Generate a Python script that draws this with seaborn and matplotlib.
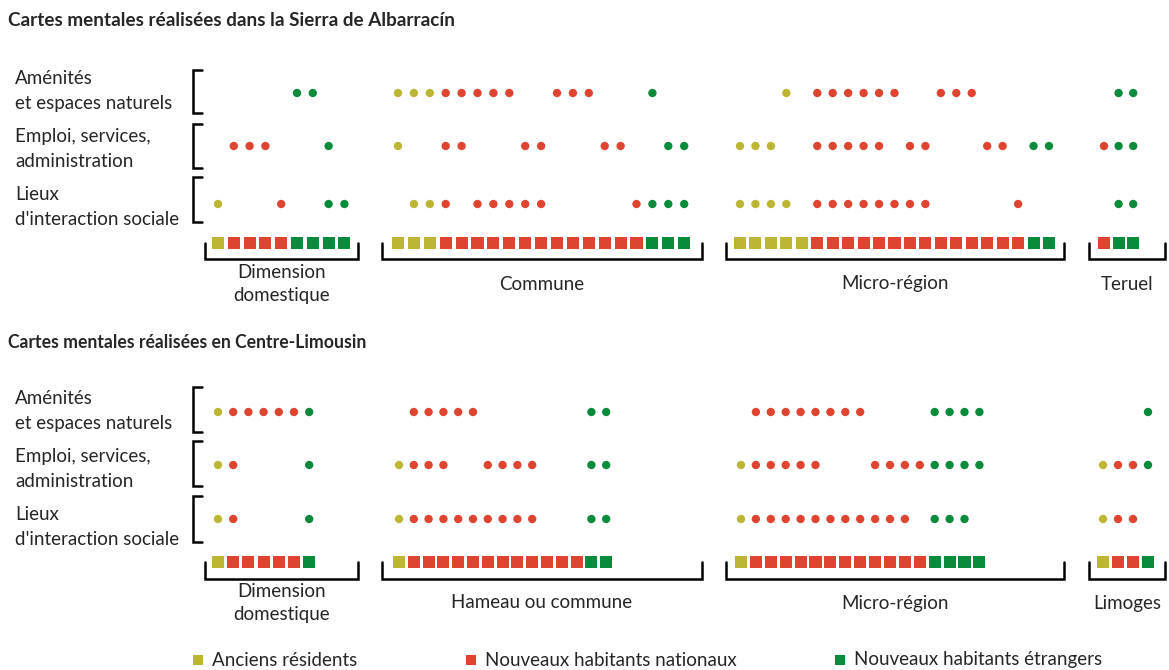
import pandas as pd
import matplotlib.pyplot as plt
import seaborn as sns

# -----------------------------
# Data
# -----------------------------
types = ["Anciens résidents", "Nouveaux habitants nationaux", "Nouveaux habitants étrangers"]
row_labels = ["Aménités\net espaces naturels", "Emploi, services,\nadministration", "Lieux\nd'interaction sociale"]

# Sierra de Albarracín: squares per type (anciens, nationaux, étrangers) and dot columns per row
sierra_title = "Cartes mentales réalisées dans la Sierra de Albarracín"
sierra_groups = ["Dimension\ndomestique", "Commune", "Micro-région", "Teruel"]
sierra_counts = [[1, 4, 4], [3, 13, 3], [5, 14, 2], [0, 1, 2]]
sierra_amenites = [[5, 6], [0, 1, 2, 3, 4, 5, 6, 7, 10, 11, 12, 16],
                   [3, 5, 6, 7, 8, 9, 10, 13, 14, 15], [1, 2]]
sierra_emploi = [[1, 2, 3, 7], [0, 3, 4, 8, 9, 13, 14, 17, 18],
                 [0, 1, 2, 5, 6, 7, 8, 9, 11, 12, 16, 17, 19, 20], [0, 1, 2]]
sierra_lieux = [[0, 4, 7, 8], [1, 2, 3, 5, 6, 7, 8, 9, 15, 16, 17, 18],
                [0, 1, 2, 3, 5, 6, 7, 8, 9, 10, 11, 12, 18], [1, 2]]

# Centre-Limousin
limousin_title = "Cartes mentales réalisées en Centre-Limousin"
limousin_groups = ["Dimension\ndomestique", "Hameau ou commune", "Micro-région", "Limoges"]
limousin_counts = [[1, 5, 1], [1, 12, 2], [1, 12, 4], [1, 2, 1]]
limousin_amenites = [[0, 1, 2, 3, 4, 5, 6], [1, 2, 3, 4, 5, 13, 14],
                     [1, 2, 3, 4, 5, 6, 7, 8, 13, 14, 15, 16], [3]]
limousin_emploi = [[0, 1, 6], [0, 1, 2, 3, 6, 7, 8, 9, 13, 14],
                   [0, 1, 2, 3, 4, 5, 9, 10, 11, 12, 13, 14, 15, 16], [0, 1, 2, 3]]
limousin_lieux = [[0, 1, 6], [0, 1, 2, 3, 4, 5, 6, 7, 8, 9, 13, 14],
                  [0, 1, 2, 3, 4, 5, 6, 7, 8, 9, 10, 11, 13, 14, 15], [0, 1, 2]]

# -----------------------------
# Layout (pixel space, y downwards)
# -----------------------------
W, H = 1169, 670
colors = ["#BDB634", "#DF4431", "#0A8A3B"]
bracket_left = [205, 382, 726, 1089]
bracket_right = [358, 702, 1064, 1165]

panels = [
    dict(title=sierra_title, title_fs=13.6, groups=sierra_groups, counts=sierra_counts,
         rows=[sierra_amenites, sierra_emploi, sierra_lieux],
         x0=[218, 398, 740, 1104], step=[15.8, 15.9, 15.45, 14.6],
         title_y=20, row_y=[93, 146, 204], sq_y=243, br_y=259, lab_y=284,
         row_spans=[(70, 113), (124, 168), (177, 222)], row_lab_y=[91, 149, 207]),
    dict(title=limousin_title, title_fs=12.7, groups=limousin_groups, counts=limousin_counts,
         rows=[limousin_amenites, limousin_emploi, limousin_lieux],
         x0=[218, 399, 741, 1103], step=[15.2, 14.8, 14.9, 15.0],
         title_y=343, row_y=[412, 465, 519], sq_y=562, br_y=579, lab_y=603,
         row_spans=[(387, 432), (441, 486), (496, 542)], row_lab_y=[411, 469, 527]),
]

# build tables of squares and dots
sq_records, dot_records = [], []
for p in panels:
    for g, counts in enumerate(p["counts"]):
        col_types = [types[t] for t, n in enumerate(counts) for _ in range(n)]
        for c, t in enumerate(col_types):
            sq_records.append({"x": p["x0"][g] + c * p["step"][g], "y": p["sq_y"], "type": t})
        for r, row in enumerate(p["rows"]):
            for c in row[g]:
                dot_records.append({"x": p["x0"][g] + c * p["step"][g], "y": p["row_y"][r],
                                    "type": col_types[c]})
squares = pd.DataFrame(sq_records)
dots = pd.DataFrame(dot_records)

# -----------------------------
# Plot
# -----------------------------
sns.set_style("white")
plt.rcParams["font.family"] = ["Lato", "DejaVu Sans"]

fig = plt.figure(figsize=(W / 100, H / 100), dpi=100)
ax = fig.add_axes([0, 0, 1, 1])
ax.set_xlim(0, W)
ax.set_ylim(H, 0)
ax.axis("off")

sns.scatterplot(data=squares, x="x", y="y", hue="type", hue_order=types, palette=colors,
                marker="s", s=75, linewidth=0, legend=False, ax=ax)
sns.scatterplot(data=dots, x="x", y="y", hue="type", hue_order=types, palette=colors,
                marker="o", s=36, linewidth=0, legend=False, ax=ax)

lw = 1.8
fs = 13.5
for p in panels:
    ax.text(8, p["title_y"], p["title"], fontsize=p["title_fs"], fontweight="bold",
            va="center", ha="left")
    # row labels with left brackets
    for (y0, y1), ly, lab in zip(p["row_spans"], p["row_lab_y"], row_labels):
        ax.plot([202, 193, 193, 202], [y0, y0, y1, y1], color="black", lw=lw,
                solid_joinstyle="miter")
        ax.text(15, ly, lab, fontsize=fs, va="center", ha="left", linespacing=1.55)
    # group brackets and labels
    for xl, xr, lab in zip(bracket_left, bracket_right, p["groups"]):
        ax.plot([xl, xl, xr, xr], [p["sq_y"], p["br_y"], p["br_y"], p["sq_y"]],
                color="black", lw=lw, solid_joinstyle="miter")
        ax.text((xl + xr) / 2, p["lab_y"], lab, fontsize=fs, va="center", ha="center",
                linespacing=1.4)

# legend
legend_x = [198, 471, 840]
for lx, t, c in zip(legend_x, types, colors):
    ax.scatter([lx], [660], marker="s", s=60, color=c, linewidth=0)
    ax.text(lx + 14, 660, t, fontsize=fs, va="center", ha="left")

plt.savefig("out.png", dpi=100)
